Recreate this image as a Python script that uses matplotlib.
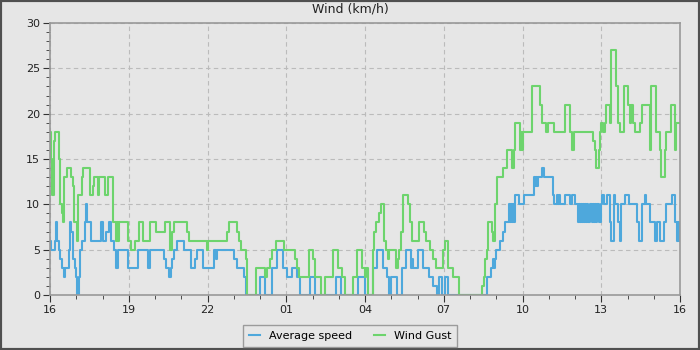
import numpy as np
import matplotlib
matplotlib.use("Agg")
import matplotlib.pyplot as plt
from matplotlib.patches import Rectangle
from matplotlib.ticker import MultipleLocator, FixedLocator

# minutes after 16:00 where each step starts, and the value (km/h)
gust_min = [0, 2, 5, 9, 11, 21, 23, 27, 30, 32, 39, 48, 53, 55, 62, 64, 73, 75, 91, 98,
            101, 110, 112, 126, 133, 144, 151, 153, 155, 158, 178, 185, 194, 203, 213, 229,
            242, 263, 274, 279, 283, 313, 318, 359, 361, 405, 409, 427, 432, 437, 448, 450,
            471, 491, 496, 503, 507, 517, 535, 560, 565, 569, 592, 601, 606, 619, 629, 647,
            658, 667, 674, 693, 702, 713, 720, 722, 727, 738, 741, 745, 752, 757, 763, 768,
            773, 775, 791, 795, 798, 802, 807, 818, 823, 827, 843, 855, 859, 869, 875, 882,
            898, 903, 910, 921, 935, 987, 992, 994, 999, 1001, 1010, 1013, 1017, 1022, 1035,
            1045, 1056, 1061, 1063, 1074, 1077, 1079, 1081, 1102, 1120, 1125, 1134, 1138,
            1152, 1177, 1189, 1193, 1198, 1241, 1246, 1248, 1255, 1257, 1259, 1264, 1269,
            1271, 1280, 1282, 1294, 1298, 1303, 1312, 1321, 1326, 1328, 1333, 1337, 1349,
            1353, 1371, 1374, 1385, 1394, 1397, 1406, 1408, 1419, 1429, 1431, 1440]
gust_val = [18, 15, 11, 17, 18, 15, 10, 9, 8, 13, 14, 13, 12, 8, 6, 11, 13, 14, 11, 12,
            13, 11, 13, 11, 13, 8, 6, 8, 6, 8, 6, 5, 6, 8, 6, 8,
            7, 8, 5, 7, 8, 7, 6, 5, 6, 7, 8, 7, 6, 5, 4, 0,
            3, 2, 3, 4, 5, 6, 5, 4, 3, 2, 5, 4, 2, 0, 2, 5,
            3, 2, 0, 2, 5, 3, 2, 3, 0, 5, 7, 8, 9, 10, 6, 5,
            4, 5, 3, 4, 5, 7, 11, 10, 8, 6, 8, 7, 6, 5, 4, 3,
            5, 6, 3, 2, 0, 1, 2, 4, 5, 8, 7, 6, 10, 13, 14,
            16, 14, 16, 19, 16, 18, 16, 18, 23, 21, 19, 18, 19,
            18, 21, 18, 16, 18, 17, 16, 14, 16, 18, 19, 18, 19,
            21, 19, 27, 23, 19, 18, 23, 21, 19, 21, 19, 18, 19,
            21, 16, 23, 18, 16, 13, 16, 18, 21, 16, 19, 19]

avg_min = [0, 2, 11, 14, 16, 21, 23, 27, 32, 34, 43, 46, 48, 53, 57, 59, 62, 66, 69, 73,
           80, 82, 85, 94, 117, 121, 128, 135, 139, 146, 151, 155, 178, 201, 224, 229, 261,
           265, 272, 277, 279, 283, 290, 306, 322, 331, 336, 350, 375, 379, 382, 421, 427,
           443, 448, 480, 491, 507, 519, 533, 542, 553, 565, 571, 594, 606, 654, 665, 704,
           720, 738, 747, 761, 770, 775, 779, 793, 805, 814, 825, 827, 830, 841, 853, 866,
           875, 885, 889, 896, 903, 910, 999, 1008, 1013, 1015, 1017, 1019, 1029, 1035, 1040,
           1049, 1051, 1054, 1056, 1058, 1061, 1063, 1072, 1083, 1106, 1109, 1111, 1113,
           1115, 1125, 1129, 1150, 1152, 1159, 1161, 1163, 1166, 1177, 1189, 1193, 1200,
           1207, 1209, 1211, 1214, 1216, 1218, 1221, 1223, 1225, 1227, 1230, 1234, 1239,
           1241, 1243, 1246, 1248, 1250, 1255, 1259, 1262, 1266, 1273, 1280, 1282, 1289,
           1291, 1298, 1303, 1305, 1314, 1323, 1342, 1346, 1353, 1360, 1362, 1371, 1383,
           1387, 1394, 1403, 1408, 1422, 1429, 1433, 1435, 1438, 1440]
avg_val = [6, 5, 6, 8, 6, 5, 4, 3, 2, 3, 5, 8, 7, 4, 3, 2, 0, 2, 5, 6,
           8, 10, 8, 6, 8, 6, 7, 8, 6, 5, 3, 5, 3, 5, 3, 5, 4,
           3, 2, 3, 4, 5, 6, 5, 3, 4, 5, 3, 5, 4, 5, 4, 3,
           2, 0, 2, 0, 3, 5, 3, 2, 3, 2, 0, 2, 0, 2, 0, 2,
           0, 3, 5, 3, 2, 0, 2, 0, 3, 5, 3, 4, 3, 5, 3, 2,
           1, 0, 2, 0, 2, 0, 2, 3, 4, 3, 4, 5, 6, 7, 8,
           10, 8, 10, 8, 10, 8, 11, 10, 11, 13, 12, 13, 12,
           13, 14, 13, 11, 10, 11, 10, 11, 10, 11, 10, 11, 10,
           8, 10, 8, 10, 8, 10, 8, 10, 8, 10, 8, 10, 8,
           10, 8, 10, 8, 10, 8, 10, 11, 10, 11, 8, 6, 11,
           10, 8, 6, 10, 11, 10, 8, 6, 10, 11, 10, 8, 6,
           8, 6, 8, 10, 11, 8, 6, 8, 6, 6]

tick_hours = [16, 19, 22, 25, 28, 31, 34, 37, 40]
hour_labels = ["16", "19", "22", "01", "04", "07", "10", "13", "16"]

bg = "#e6e6e6"
blue = "#4ea8dc"
green = "#6dd46d"

fig = plt.figure(figsize=(7, 3.5), dpi=100, facecolor=bg)
ax = fig.add_axes([50 / 700, 1 - 295 / 350, 630 / 700, 272 / 350], facecolor=bg)

t_avg = 16 + np.array(avg_min) / 60
t_gust = 16 + np.array(gust_min) / 60
ax.plot(t_avg, avg_val, drawstyle="steps-post", color=blue, lw=1.5, label="Average speed")
ax.plot(t_gust, gust_val, drawstyle="steps-post", color=green, lw=1.5, label="Wind Gust")

ax.set_xlim(16, 40)
ax.set_ylim(0, 30)
ax.xaxis.set_major_locator(FixedLocator(tick_hours))
ax.xaxis.set_minor_locator(MultipleLocator(1))
ax.set_xticklabels(hour_labels)
ax.yaxis.set_major_locator(MultipleLocator(5))
ax.yaxis.set_minor_locator(MultipleLocator(1))
ax.grid(True, which="major", color="#bbbbbb", ls=(0, (4, 3)), lw=0.8)
ax.set_axisbelow(True)
for s in ax.spines.values():
    s.set_color("#999999")
    s.set_linewidth(1.2)
ax.tick_params(which="major", length=5, color="#333333", labelsize=8, pad=2, labelcolor="#222222")
ax.tick_params(which="minor", length=3, color="#333333")

# title is centred on the whole figure, not the axes
fig.text(0.5, 1 - 9 / 350, "Wind (km/h)", ha="center", va="center", fontsize=9, color="#222222")

leg = fig.legend(loc="lower center", bbox_to_anchor=(0.5, -0.006), ncol=2, fontsize=8,
                 frameon=True, fancybox=False, handlelength=1.0, columnspacing=2.0,
                 borderpad=0.5, facecolor=bg, edgecolor="#888888")
leg.get_frame().set_linewidth(1.0)

fig.patches.append(Rectangle((0, 0), 1, 1, transform=fig.transFigure, fill=False,
                             edgecolor="#505050", lw=3))

fig.savefig("out.png", dpi=100, facecolor=bg)
